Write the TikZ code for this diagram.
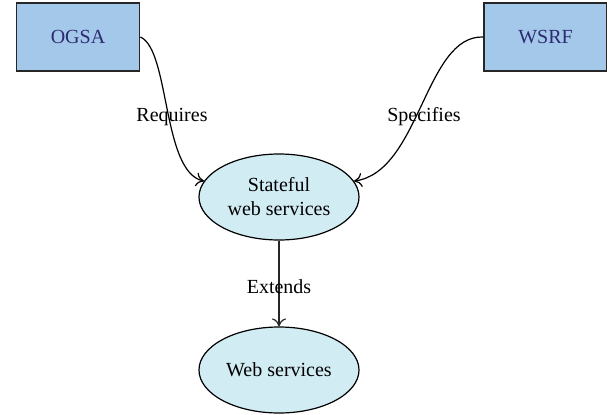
\documentclass[tikz,border=0pt]{standalone}
\usepackage{fontspec}
\setmainfont{Liberation Serif}
\usetikzlibrary{shapes.geometric,arrows.meta}

\definecolor{boxblue}{HTML}{A4C8E9}
\definecolor{ellblue}{HTML}{D2ECF3}
\definecolor{namecol}{HTML}{2B2B72}
\definecolor{edgecol}{HTML}{262626}

\tikzset{
  specbox/.style={draw=edgecol,line width=0.9pt,fill=boxblue,text=namecol,
    minimum width=61.5pt,minimum height=34pt,inner sep=0pt},
  svcnode/.style={ellipse,draw=black,line width=0.6pt,fill=ellblue,
    minimum width=80pt,minimum height=43pt,inner sep=0pt,align=center},
  relation/.style={->,line width=0.6pt},
  rellabel/.style={inner sep=0pt}
}

\begin{document}
\begin{tikzpicture}[x=0.5pt,y=-0.5pt,>={To[length=4pt,width=7pt]}]
\useasboundingbox (0,0) rectangle (607,414);
\node[specbox] (ogsa) at (78,37) {OGSA};
\node[specbox] (wsrf) at (545.5,37) {WSRF};
\node[svcnode] (stateful) at (279,197) {Stateful\\web services};
\node[svcnode] (websvc) at (279,370) {Web services};
% curved links into the stateful node
\draw[relation] (ogsa.east) .. controls (170,50) and (162,172) .. (stateful.168);
\draw[relation] (wsrf.west) .. controls (425,35) and (420,172) .. (stateful.12);
\draw[relation,draw=edgecol] (stateful.south) -- (websvc.north);
\node[rellabel] (req) at (172,117) {Requires};
\node[rellabel] (spec) at (424,117) {Specifies};
\node[rellabel] (ext) at (279,287) {Extends};
\end{tikzpicture}
\end{document}
